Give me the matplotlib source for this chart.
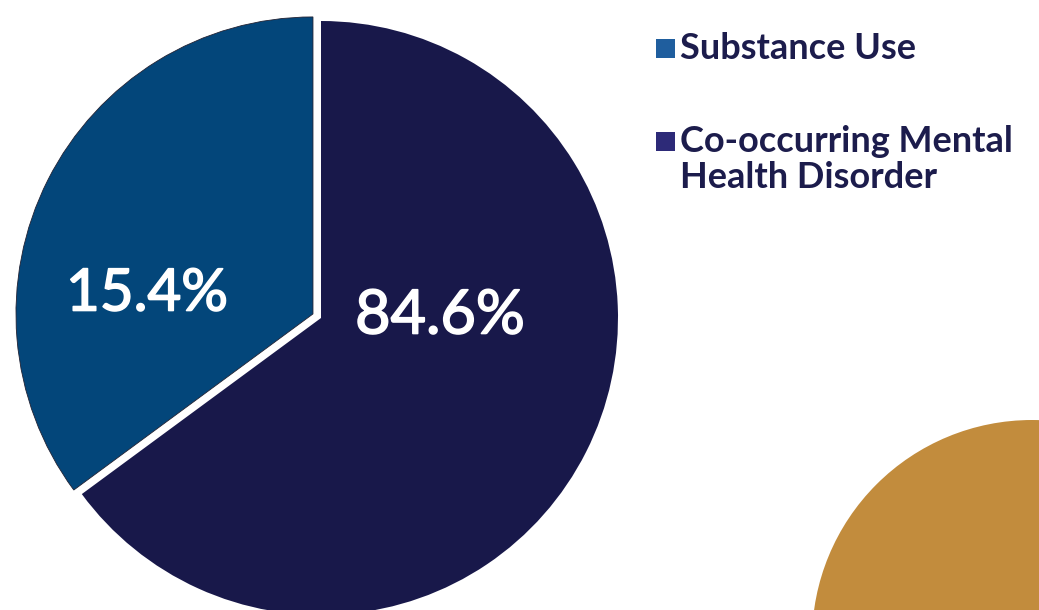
"""Pie chart: substance use vs co-occurring mental health disorder."""

import matplotlib
matplotlib.use("Agg")
import matplotlib.pyplot as plt
import matplotlib.patheffects as pe
from matplotlib.patches import Circle, Rectangle

# Data (slice sizes, labels as printed)
categories = ["Substance Use", "Co-occurring Mental\nHealth Disorder"]
slice_sizes = [35.1, 64.9]
pct_labels = ["15.4%", "84.6%"]

slice_colors = ["#03467A", "#18184A"]
legend_colors = ["#1F5E9E", "#2D2A78"]
text_color = "#1C1C4C"
gold = "#C28C3D"

W, H = 1039, 610

fig = plt.figure(figsize=(W / 100, H / 100), dpi=100)
ax = fig.add_axes([0, 0, 1, 1])

cx, cy, r = 321, H - 318, 297
wedges, _ = ax.pie(
    slice_sizes,
    colors=slice_colors,
    startangle=90,
    counterclock=True,
    center=(cx, cy),
    radius=r,
    explode=[9, 0],  # pie offsets in data units here
    wedgeprops=dict(linewidth=0),
)
# faint shadow line on the outer arc of the small slice
wedges[0].set_edgecolor("#222233")
wedges[0].set_linewidth(0.6)

# Percentage labels inside the slices
thick = [pe.withStroke(linewidth=1.2, foreground="white")]
ax.text(147, H - 294, pct_labels[0], color="white", fontsize=42,
        family="Lato", ha="center", va="center", path_effects=thick)
ax.text(440, H - 316, pct_labels[1], color="white", fontsize=44,
        family="Lato", ha="center", va="center", path_effects=thick)

# Decorative gold circle bottom right
ax.add_patch(Circle((1032, -30), 220, color=gold, lw=0))

# Legend
baselines = [59, 152]
for lab, col, base in zip(categories, legend_colors, baselines):
    ax.add_patch(Rectangle((656, H - base + 1), 19, 19, color=col, lw=0))
    for k, line in enumerate(lab.split("\n")):
        ax.text(680, H - base - 36 * k, line, color=text_color, fontsize=26,
                family="Lato", weight="bold", ha="left", va="baseline")

ax.set_xlim(0, W)
ax.set_ylim(0, H)
ax.set_aspect("equal")
ax.axis("off")

fig.savefig("out.png", dpi=100)
